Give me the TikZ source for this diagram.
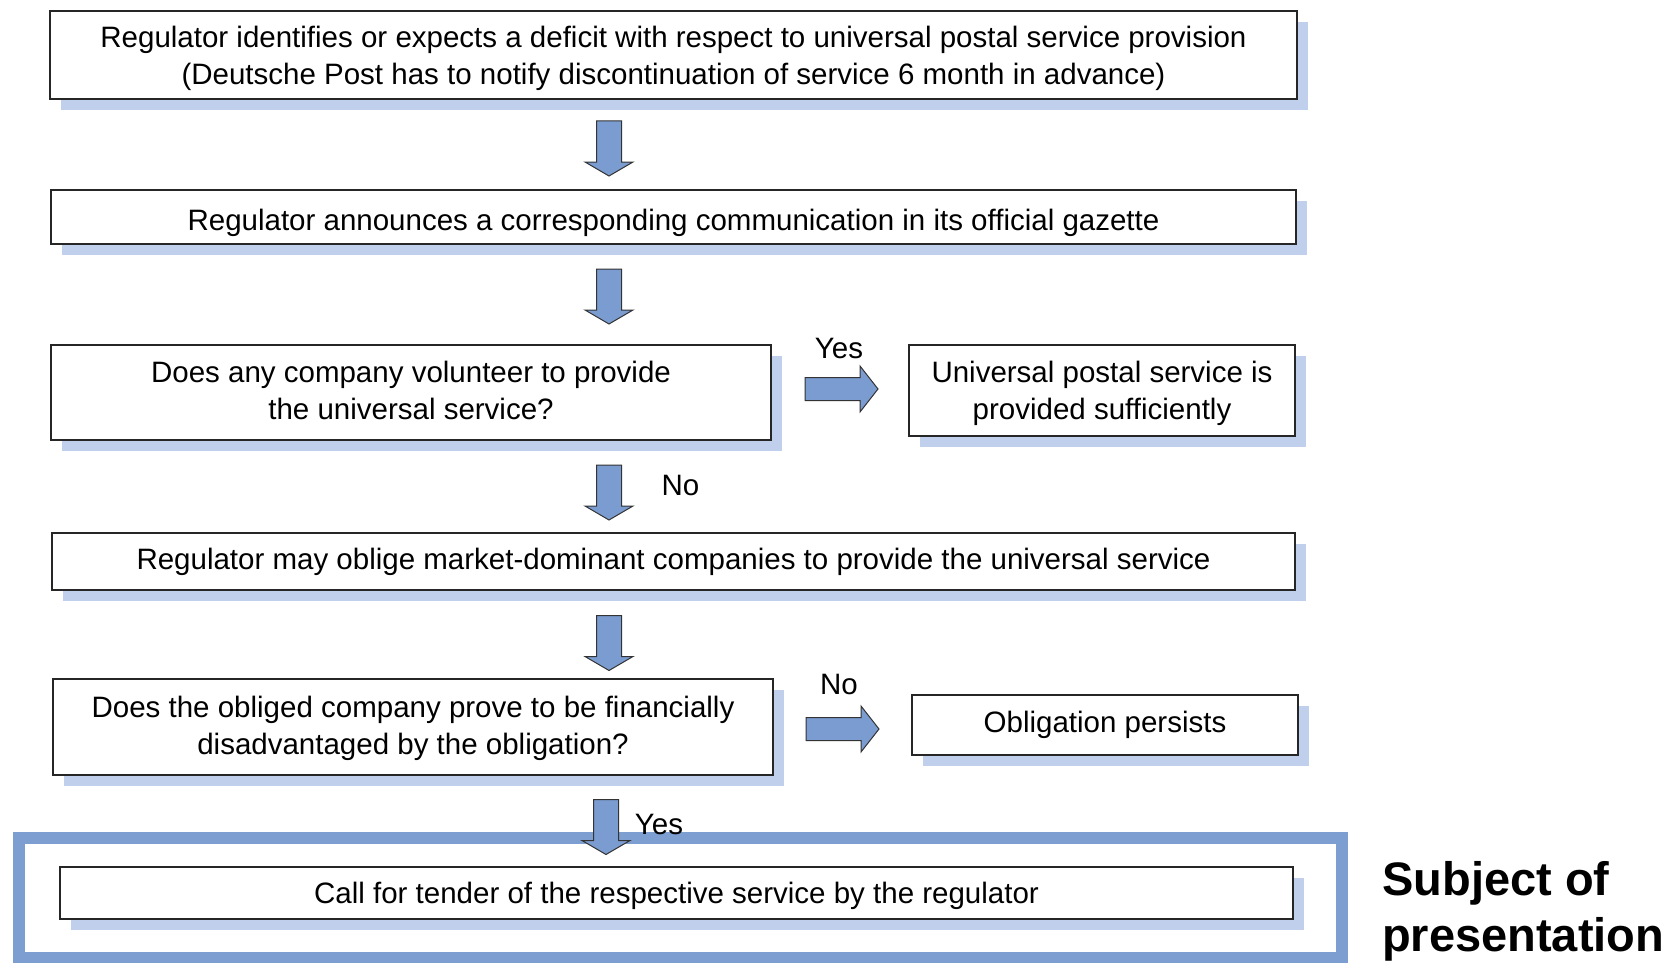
\documentclass[tikz,border=0pt]{standalone}
\usepackage{fontspec}
\setmainfont{Liberation Sans}
\usetikzlibrary{shadows}
\definecolor{arrowblue}{RGB}{122,156,208}
\definecolor{frameblue}{RGB}{124,158,208}
\definecolor{shadowblue}{RGB}{192,207,235}
% set a line of box text a little lower (or higher) without changing its box
\newcommand\dline[2]{\raisebox{-#1pt}[\height][\depth]{#2}}
\begin{document}
\begin{tikzpicture}[x=1pt,y=-1pt,
  stepbox/.style={draw=black!85, line width=1.6pt, fill=white, inner sep=0pt,
    align=center, font=\fontsize{29.5}{37}\selectfont,
    drop shadow={shadow xshift=11pt, shadow yshift=-11pt, fill=shadowblue, opacity=1}},
  lbl/.style={font=\fontsize{29.5}{37}\selectfont, inner sep=0pt},
  blockarrow/.style={fill=arrowblue, draw=black!80, line width=1pt, line join=miter},
  darr/.pic={\draw[blockarrow] (-12.5,-27.5) -- (12.5,-27.5) -- (12.5,13.5) -- (24,13.5)
     -- (0,27.5) -- (-24,13.5) -- (-12.5,13.5) -- cycle;},
  rarr/.pic={\draw[blockarrow] (-36.5,-11.5) -- (18.5,-11.5) -- (18.5,-23) -- (36.5,0)
     -- (18.5,23) -- (18.5,11.5) -- (-36.5,11.5) -- cycle;}
]
\useasboundingbox (0,0) rectangle (1675,963);

% frame around the tender step
\draw[frameblue, line width=12pt] (19,837.5) rectangle (1342,958);

% process steps
\node[stepbox, minimum width=1247, minimum height=88] (b1) at (673.5,55)
  {\dline{3.5}{Regulator identifies or expects a deficit with respect to universal postal service provision}\\
   \dline{3.5}{(Deutsche Post has to notify discontinuation of service 6 month in advance)}};
\node[stepbox, minimum width=1245, minimum height=54] (b2) at (673.5,217)
  {\dline{5.5}{Regulator announces a corresponding communication in its official gazette}};
\node[stepbox, minimum width=720, minimum height=95] (b3) at (411,392.5)
  {\dline{-2}{Does any company volunteer to provide}\\\dline{-2}{the universal service?}};
\node[stepbox, minimum width=386, minimum height=91] (b3y) at (1102,390.5)
  {\dline{3}{Universal postal service is}\\\dline{3}{provided sufficiently}};
\node[stepbox, minimum width=1243, minimum height=57] (b4) at (673.5,561.5)
  {Regulator may oblige market-dominant companies to provide the universal service};
\node[stepbox, minimum width=720, minimum height=96] (b5) at (413,727)
  {\dline{1}{Does the obliged company prove to be financially}\\\dline{1}{disadvantaged by the obligation?}};
\node[stepbox, minimum width=386, minimum height=60] (b5n) at (1105,725)
  {Obligation persists};
\node[stepbox, minimum width=1233, minimum height=52] (b6) at (676.5,893)
  {\dline{3}{Call for tender of the respective service by the regulator}};

% block arrows between the steps
\pic at (609,148.5) {darr};
\pic at (609,296.5) {darr};
\pic at (609,492.5) {darr};
\pic at (609,643) {darr};
\pic at (606,827) {darr};
\pic at (841.5,389) {rarr};
\pic at (842.5,729) {rarr};

% decision labels
\node[lbl] (l1) at (839,348) {Yes};
\node[lbl] (l2) at (680.5,485) {No};
\node[lbl] (l3) at (839,684) {No};
\node[lbl] (l4) at (659,824) {Yes};

\node[anchor=north west, inner sep=0pt, align=left,
      font=\fontsize{47}{56}\selectfont\bfseries] (subj) at (1382,861)
  {Subject of\\presentation};
\end{tikzpicture}
\end{document}
